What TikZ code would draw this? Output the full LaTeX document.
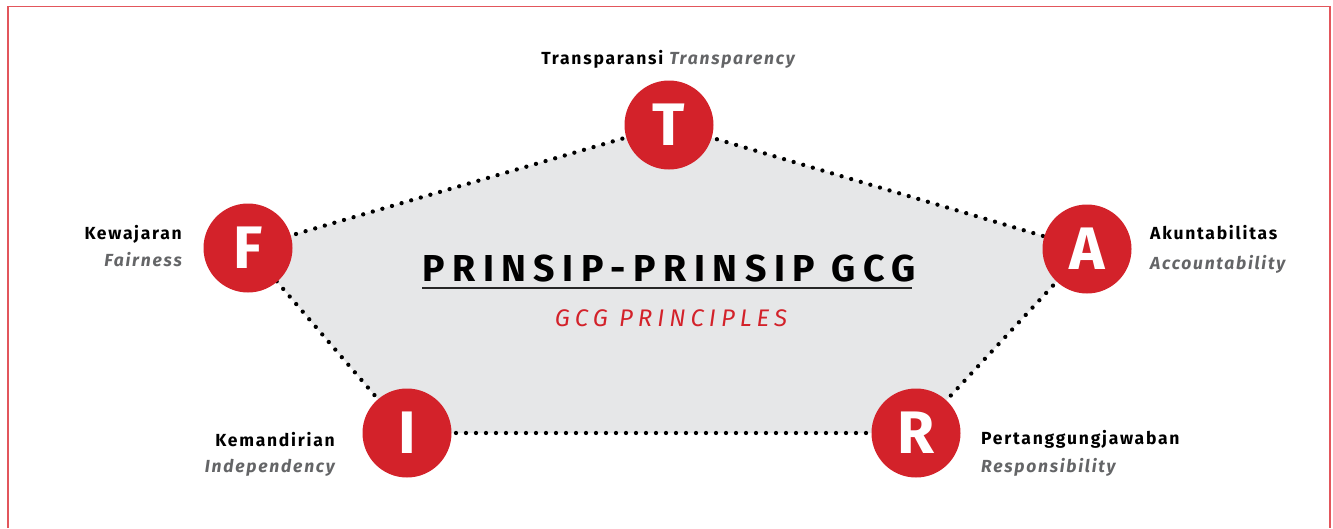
\documentclass[tikz,border=0pt]{standalone}
\usepackage{fontspec}
\setmainfont{Fira Sans}
\newfontfamily\labelfont[LetterSpace=10]{Fira Sans}
\newfontfamily\titlefont[LetterSpace=20]{Fira Sans}
\newfontfamily\subtitlefont[LetterSpace=21]{Fira Sans}
\definecolor{gcgred}{HTML}{D3222A}
\definecolor{framered}{HTML}{E2565C}
\definecolor{pentagray}{HTML}{E6E7E8}
\definecolor{engray}{HTML}{646567}

\begin{document}
\begin{tikzpicture}[x=1pt, y=-1pt,
        letter/.style={circle, fill=gcgred, text=white, minimum size=89pt, inner sep=0pt,
            font=\fontsize{60}{60}\selectfont\bfseries},
        dotline/.style={line width=4.3pt, line cap=round, dash pattern=on 0pt off 10pt},
        idtext/.style={inner sep=0pt, font=\labelfont\fontsize{17.5}{20}\selectfont\bfseries},
        entext/.style={idtext, text=engray, font=\labelfont\fontsize{17.5}{20}\selectfont\bfseries\itshape}]
        \useasboundingbox (0, 0) rectangle (1333, 528);
        \draw[framered, line width=1.5pt] (8, 528) -- (8, 6.5) -- (1330, 6.5) -- (1330, 528);

        \coordinate (t) at (669, 125);
        \coordinate (a) at (1087, 249);
        \coordinate (r) at (916, 433);
        \coordinate (i) at (407, 433);
        \coordinate (f) at (248, 248);
        \fill[pentagray] (t) -- (a) -- (r) -- (i) -- (f) -- cycle;

        \draw[dotline] (t) -- (a);
        \draw[dotline] (a) -- (r);
        \draw[dotline] (r) -- (i);
        \draw[dotline] (i) -- (f);
        \draw[dotline] (f) -- (t);

        \node[letter] at (t) (T) {T};
        \node[letter] at (a) (A) {A};
        \node[letter] at (r) (R) {R};
        \node[letter] at (i) (I) {I};
        \node[letter] at (f) (F) {F};

        \node[idtext, anchor=base] at (668, 64) (transparansi)
            {Transparansi {\color{engray}\itshape Transparency}};
        \node[idtext, anchor=base east] at (182, 239) (kewajaran) {Kewajaran};
        \node[entext, anchor=base east] at (182, 266) (fairness) {Fairness};
        \node[idtext, anchor=base west] at (1150, 239) (akuntabilitas) {Akuntabilitas};
        \node[entext, anchor=base west] at (1150, 269) (accountability) {Accountability};
        \node[idtext, anchor=base east] at (335, 446) (kemandirian) {Kemandirian};
        \node[entext, anchor=base east] at (335, 472) (independency) {Independency};
        \node[idtext, anchor=base west] at (981, 444) (pertanggungjawaban) {Pertanggungjawaban};
        \node[entext, anchor=base west] at (981, 472) (responsibility) {Responsibility};

        \node[inner sep=0pt, anchor=base, font=\titlefont\fontsize{37.5}{40}\selectfont\bfseries]
            at (669, 281) (title) {PRINSIP-PRINSIP GCG};
        \draw[line width=2pt, black!85] ([yshift=-7pt]title.base west) -- ([yshift=-7pt, xshift=-4pt]title.base east);
        \node[inner sep=0pt, anchor=base, text=gcgred, font=\subtitlefont\fontsize{24}{28}\selectfont\itshape]
            at (671, 326) (subtitle) {GCG PRINCIPLES};
    \end{tikzpicture}
\end{document}
